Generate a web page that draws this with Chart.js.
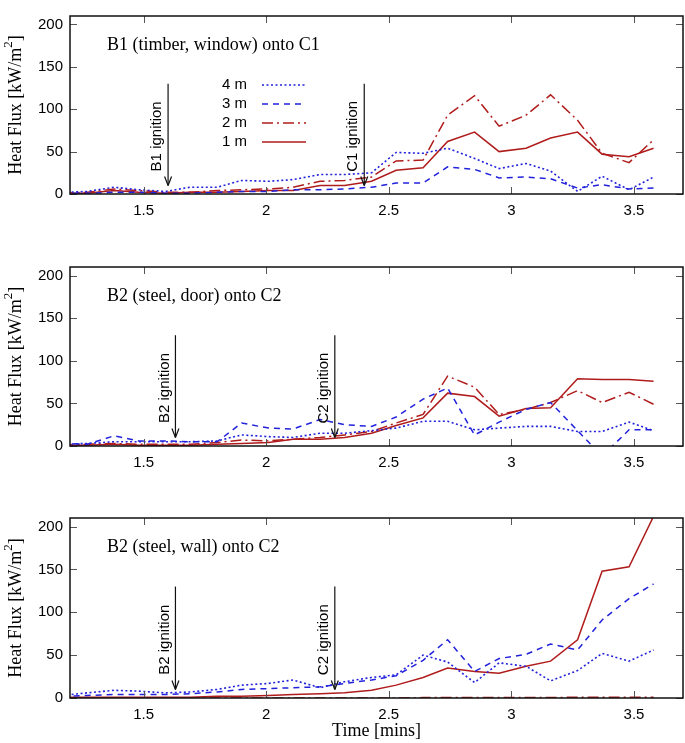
<!DOCTYPE html>
<html><head><meta charset="utf-8">
<script src="https://cdn.jsdelivr.net/npm/chart.js@4.4.1/dist/chart.umd.min.js"></script>
<style>
body{margin:0;background:#fff;}
#wrap{position:relative;width:685px;height:743px;background:#fff;}
canvas{position:absolute;left:0;}
</style>
</head><body>
<div id="wrap">
<canvas id="c1" width="685" height="240" style="top:0px"></canvas>
<canvas id="c2" width="685" height="240" style="top:251px"></canvas>
<canvas id="c3" width="685" height="241" style="top:502px"></canvas>
</div>
<script>
// ---- data ----
const time = [1.17,1.27,1.38,1.48,1.59,1.69,1.80,1.90,2.01,2.11,2.22,2.32,2.43,2.53,2.64,2.74,2.85,2.95,3.06,3.16,3.27,3.37,3.48,3.58];
const xTicks = [1.5, 2, 2.5, 3, 3.5];
const yTicks = [0, 50, 100, 150, 200];
const seriesLabels = ['4 m', '3 m', '2 m', '1 m'];

// Panel 1: B1 (timber, window) onto C1
const p1_4m = [2,3,8,5,3,8,8,16,15,17,23,23,25,49,48,54,42,30,36,27,3,21,5,20];
const p1_3m = [1,1,2,2,1,1,2,3,3,5,5,6,8,13,13,32,29,19,20,18,7,11,6,7];
const p1_2m = [1,2,6,4,2,2,4,5,6,8,15,16,20,39,40,93,116,80,93,117,87,48,37,64];
const p1_1m = [1,1,4,2,1,2,2,3,4,4,10,10,15,28,31,62,73,50,54,66,73,47,44,54];

// Panel 2: B2 (steel, door) onto C2
const p2_4m = [2,3,5,5,5,5,6,13,11,10,15,15,18,21,29,29,19,21,23,23,17,17,28,18];
const p2_3m = [3,2,12,6,6,5,5,27,21,20,31,25,23,34,55,68,13,28,43,51,18,-12,19,19];
const p2_2m = [1,2,3,2,2,2,4,7,6,8,10,13,17,27,37,82,69,37,43,51,65,51,63,49];
const p2_1m = [1,1,2,1,1,1,2,3,4,8,8,10,15,24,33,62,58,35,44,45,79,78,78,76];

// Panel 3: B2 (steel, wall) onto C2
const p3_4m = [3,6,9,8,6,7,10,15,17,21,12,19,24,27,50,42,18,41,37,20,32,52,43,56];
const p3_3m = [2,3,4,4,4,5,7,10,11,12,13,17,21,26,44,68,31,46,51,63,56,91,116,133];
const p3_2m = [0,0,0,0,0,0,0,0,0,0,0,0,0,0,0.5,0.5,0.5,0.5,0.5,0.5,1,1,1,1];
const p3_1m = [1,1,1,1,1,1,2,2,3,4,5,6,9,15,24,35,31,29,37,43,68,148,153,212];

const ign1Times = [1.60, 2.40]; const ign1Labels = ['B1 ignition', 'C1 ignition'];
const ign2Times = [1.63, 2.28]; const ign2Labels = ['B2 ignition', 'C2 ignition'];
const ign3Times = [1.63, 2.28]; const ign3Labels = ['B2 ignition', 'C2 ignition'];
const arrowTop = 130, arrowTip = 10, ignLabelY = 68;

// ---- styles ----
const RED = '#b01c1c', BLUE = '#2222dc';
const styles = [
  {color: BLUE, dash: [2, 2.5], width: 1.6},
  {color: BLUE, dash: [6, 5], width: 1.5},
  {color: RED, dash: [11, 4, 2, 4], width: 1.5},
  {color: RED, dash: [], width: 1.5}
];
const SERIF = '"Liberation Serif", "Times New Roman", serif';
const SANS = '"Liberation Sans", Arial, sans-serif';

const panelPlugin = {
  id: 'panel',
  afterDatasetsDraw(chart, args, o) {
    const {ctx, chartArea: a, scales: {x, y}} = chart;
    ctx.save();
    const ln = (x1, y1, x2, y2) => { ctx.beginPath(); ctx.moveTo(x1, y1); ctx.lineTo(x2, y2); ctx.stroke(); };
    // inward ticks (mirrored)
    ctx.strokeStyle = '#555'; ctx.lineWidth = 1;
    x.ticks.forEach(t => { const px = Math.round(x.getPixelForValue(t.value)) + 0.5; ln(px, a.bottom, px, a.bottom - 7); ln(px, a.top, px, a.top + 7); });
    y.ticks.forEach(t => { const py = Math.round(y.getPixelForValue(t.value)) + 0.5; ln(a.left, py, a.left + 7, py); ln(a.right, py, a.right - 7, py); });
    // frame
    ctx.strokeStyle = '#111'; ctx.lineWidth = 1.5;
    ctx.strokeRect(a.left, a.top, a.right - a.left, a.bottom - a.top);
    // ignition arrows
    ctx.strokeStyle = '#111'; ctx.lineWidth = 1.2; ctx.fillStyle = '#000';
    ctx.font = '15px ' + SANS;
    o.ignTimes.forEach((t, i) => {
      const px = x.getPixelForValue(t);
      const y1 = y.getPixelForValue(arrowTop), y2 = y.getPixelForValue(arrowTip);
      ln(px, y1, px, y2);
      ln(px - 3.5, y2 - 9, px, y2); ln(px + 3.5, y2 - 9, px, y2);
      ctx.save();
      ctx.translate(px - 11, y.getPixelForValue(ignLabelY));
      ctx.rotate(-Math.PI / 2);
      ctx.textAlign = 'center'; ctx.textBaseline = 'middle';
      ctx.fillText(o.ignLabels[i], 0, 0);
      ctx.restore();
    });
    // y-axis title with superscript
    ctx.save();
    ctx.translate(16, (a.top + a.bottom) / 2);
    ctx.rotate(-Math.PI / 2);
    ctx.textBaseline = 'middle'; ctx.textAlign = 'left';
    const mainFont = '18px ' + SERIF, supFont = '13px ' + SERIF;
    const p1 = 'Heat Flux [kW/m', p2 = '2', p3 = ']';
    ctx.font = mainFont; const w1 = ctx.measureText(p1).width, w3 = ctx.measureText(p3).width;
    ctx.font = supFont; const w2 = ctx.measureText(p2).width;
    let sx = -(w1 + w2 + w3) / 2;
    ctx.font = mainFont; ctx.fillText(p1, sx, 0); sx += w1;
    ctx.font = supFont; ctx.fillText(p2, sx, -7); sx += w2;
    ctx.font = mainFont; ctx.fillText(p3, sx, 0);
    ctx.restore();
    // panel title
    ctx.font = '18px ' + SERIF;
    ctx.textAlign = 'left'; ctx.textBaseline = 'middle';
    ctx.fillText(o.title, 107, a.top + 29);
    // legend
    if (o.legend) {
      ctx.font = '15px ' + SANS;
      ctx.textAlign = 'right';
      chart.data.datasets.forEach((ds, i) => {
        const ly = 85 + i * 19;
        ctx.fillStyle = '#000';
        ctx.fillText(ds.label, 247, ly);
        ctx.strokeStyle = ds.borderColor; ctx.lineWidth = ds.borderWidth;
        ctx.setLineDash(ds.borderDash);
        ln(262, ly, 306, ly);
        ctx.setLineDash([]);
      });
    }
    ctx.restore();
  }
};

function makePanel(id, series, opt) {
  const datasets = series.map((vals, i) => ({
    label: seriesLabels[i],
    data: time.map((t, k) => ({x: t, y: vals[k]})),
    borderColor: styles[i].color,
    borderDash: styles[i].dash,
    borderWidth: styles[i].width,
    pointRadius: 0,
    fill: false,
    tension: 0
  }));
  return new Chart(document.getElementById(id), {
    type: 'line',
    data: {datasets},
    plugins: [panelPlugin],
    options: {
      responsive: false, animation: false, devicePixelRatio: 1,
      layout: {padding: {top: 2, right: 2, left: 0, bottom: 0}},
      plugins: {legend: {display: false}, tooltip: {enabled: false},
        panel: {title: opt.title, ignTimes: opt.ignTimes, ignLabels: opt.ignLabels, legend: opt.legend}},
      scales: {
        x: {
          type: 'linear', min: 1.2, max: 3.7,
          afterBuildTicks: s => { s.ticks = xTicks.map(v => ({value: v})); },
          afterFit: s => { s.height = opt.xh; },
          grid: {display: false, drawTicks: false},
          border: {display: false},
          ticks: {padding: 8, color: '#000', maxRotation: 0, autoSkip: false,
            font: {family: SANS, size: 15},
            callback: v => String(v)},
          title: {display: !!opt.xTitle, text: 'Time [mins]', color: '#000',
            font: {family: SERIF, size: 18},
            padding: {top: 0, bottom: 1}}
        },
        y: {
          type: 'linear', min: 0, max: 210,
          afterBuildTicks: s => { s.ticks = yTicks.map(v => ({value: v})); },
          afterFit: s => { s.width = 70; },
          grid: {display: false, drawTicks: false},
          border: {display: false},
          ticks: {padding: 7, color: '#000', autoSkip: false,
            font: {family: SANS, size: 15},
            callback: v => String(v)},
          title: {display: false}
        }
      }
    }
  });
}

makePanel('c1', [p1_4m, p1_3m, p1_2m, p1_1m], {title: 'B1 (timber, window) onto C1', ignTimes: ign1Times, ignLabels: ign1Labels, legend: true, xh: 46});
makePanel('c2', [p2_4m, p2_3m, p2_2m, p2_1m], {title: 'B2 (steel, door) onto C2', ignTimes: ign2Times, ignLabels: ign2Labels, legend: false, xh: 45});
makePanel('c3', [p3_4m, p3_3m, p3_2m, p3_1m], {title: 'B2 (steel, wall) onto C2', ignTimes: ign3Times, ignLabels: ign3Labels, legend: false, xh: 45, xTitle: true});
</script>
</body></html>
